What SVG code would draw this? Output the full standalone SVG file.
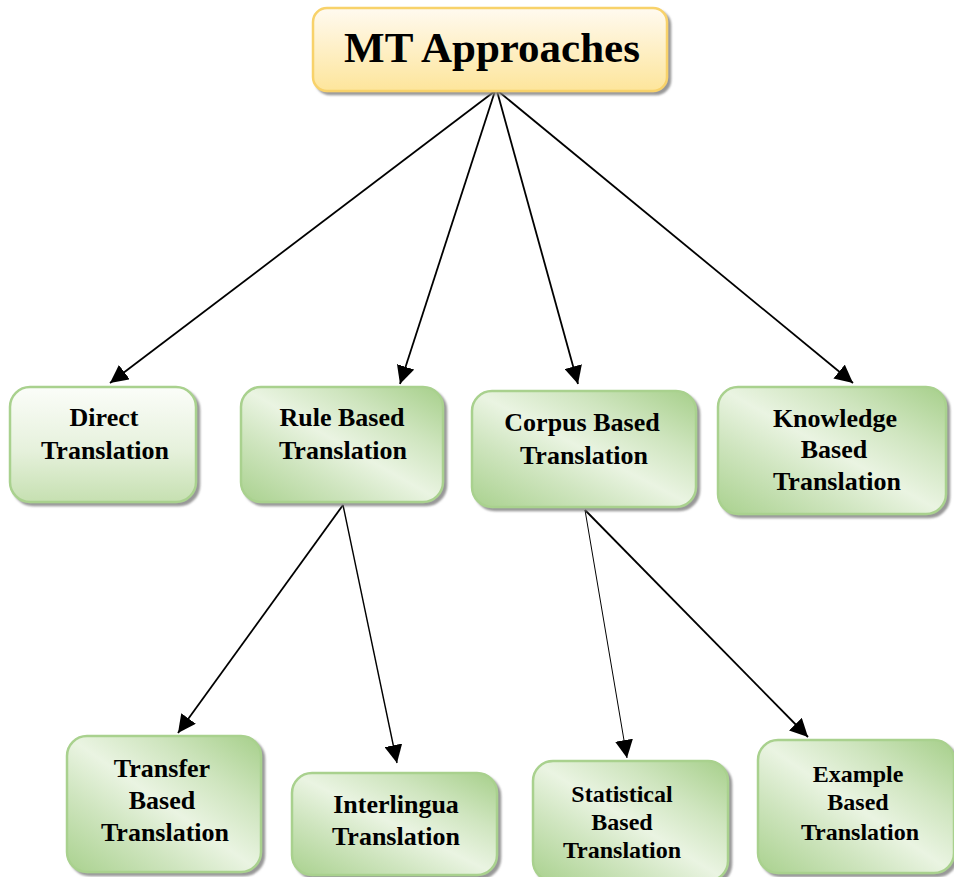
<svg xmlns="http://www.w3.org/2000/svg" width="954" height="877" viewBox="0 0 954 877">
  <defs>
    <linearGradient id="gold" x1="0" y1="0" x2="0" y2="1">
      <stop offset="0" stop-color="#fffaf0"/>
      <stop offset="1" stop-color="#fde59b"/>
    </linearGradient>
    <linearGradient id="paleGreen" x1="0" y1="0" x2="0" y2="1">
      <stop offset="0" stop-color="#fbfdf9"/>
      <stop offset="0.55" stop-color="#e6f1dc"/>
      <stop offset="1" stop-color="#c6e0b1"/>
    </linearGradient>
    <linearGradient id="green" x1="0" y1="1" x2="1" y2="0">
      <stop offset="0" stop-color="#a9d18e"/>
      <stop offset="0.3" stop-color="#cfe5bf"/>
      <stop offset="0.5" stop-color="#eaf4e2"/>
      <stop offset="0.72" stop-color="#cfe5bf"/>
      <stop offset="1" stop-color="#a6cf8a"/>
    </linearGradient>
    <marker id="head" viewBox="0 0 10 10" refX="10" refY="5" markerWidth="18" markerHeight="18" markerUnits="userSpaceOnUse" orient="auto">
      <path d="M0,0 L10,5 L0,10 z" fill="#000"/>
    </marker>
    <filter id="shade" x="-10%" y="-10%" width="125%" height="130%">
      <feDropShadow dx="3" dy="3" stdDeviation="1" flood-color="#7f7f7f" flood-opacity="0.8"/>
    </filter>
  </defs>
  <style>
    .box { stroke: #a9d18e; stroke-width: 2.5; filter: url(#shade); }
    .top { fill: url(#gold); stroke: #f8d26a; stroke-width: 2.5; filter: url(#shade); }
    .lbl { font-family: "Liberation Serif", "Times New Roman", serif; font-weight: bold; fill: #000; text-anchor: middle; font-size: 26px; }
    .sm { font-size: 24px; }
    .link { stroke: #000; fill: none; marker-end: url(#head); }
  </style>

  <rect width="954" height="877" fill="#fff"/>

  <!-- connectors -->
  <g id="connectors">
    <line class="link" x1="495" y1="91" x2="110" y2="383" stroke-width="1.8"/>
    <line class="link" x1="495" y1="91" x2="400" y2="384" stroke-width="1.8"/>
    <line class="link" x1="497" y1="91" x2="578" y2="384" stroke-width="1.8"/>
    <line class="link" x1="498" y1="91" x2="853" y2="383" stroke-width="1.8"/>
    <line class="link" x1="343" y1="505" x2="178" y2="733" stroke-width="1.8"/>
    <line class="link" x1="343" y1="505" x2="397" y2="763" stroke-width="1.4"/>
    <line class="link" x1="585" y1="510" x2="627" y2="758" stroke-width="1"/>
    <line class="link" x1="585" y1="510" x2="808" y2="737" stroke-width="1.8"/>
  </g>

  <g id="mt-approaches">
    <rect class="top" x="313" y="8" width="354" height="83" rx="14"/>
    <text class="lbl" x="492" y="62" style="font-size:43px">MT Approaches</text>
  </g>

  <g id="direct">
    <rect class="box" x="10" y="387" width="186" height="115" rx="20" fill="url(#paleGreen)"/>
    <text class="lbl" x="104" y="426">Direct</text>
    <text class="lbl" x="105" y="459">Translation</text>
  </g>

  <g id="rule-based">
    <rect class="box" x="241" y="387" width="202" height="115" rx="20" fill="url(#green)"/>
    <text class="lbl" x="342" y="426">Rule Based</text>
    <text class="lbl" x="343" y="459">Translation</text>
  </g>

  <g id="corpus-based">
    <rect class="box" x="472" y="391" width="224" height="116" rx="20" fill="url(#green)"/>
    <text class="lbl" x="582" y="431">Corpus Based</text>
    <text class="lbl" x="584" y="464">Translation</text>
  </g>

  <g id="knowledge-based">
    <rect class="box" x="718" y="387" width="228" height="127" rx="20" fill="url(#green)"/>
    <text class="lbl" x="835" y="427">Knowledge</text>
    <text class="lbl" x="834" y="458">Based</text>
    <text class="lbl" x="837" y="490">Translation</text>
  </g>

  <g id="transfer-based">
    <rect class="box" x="67" y="736" width="194" height="136" rx="20" fill="url(#green)"/>
    <text class="lbl" x="162" y="777">Transfer</text>
    <text class="lbl" x="162" y="809">Based</text>
    <text class="lbl" x="165" y="841">Translation</text>
  </g>

  <g id="interlingua">
    <rect class="box" x="292" y="773" width="205" height="102" rx="20" fill="url(#green)"/>
    <text class="lbl" x="396" y="813">Interlingua</text>
    <text class="lbl" x="396" y="845">Translation</text>
  </g>

  <g id="statistical-based">
    <rect class="box" x="533" y="761" width="195" height="120" rx="20" fill="url(#green)"/>
    <text class="lbl sm" x="622" y="802">Statistical</text>
    <text class="lbl sm" x="622" y="830">Based</text>
    <text class="lbl sm" x="622" y="858">Translation</text>
  </g>

  <g id="example-based">
    <rect class="box" x="758" y="740" width="196" height="133" rx="20" fill="url(#green)"/>
    <text class="lbl sm" x="858" y="782">Example</text>
    <text class="lbl sm" x="858" y="810">Based</text>
    <text class="lbl sm" x="860" y="840">Translation</text>
  </g>
</svg>
